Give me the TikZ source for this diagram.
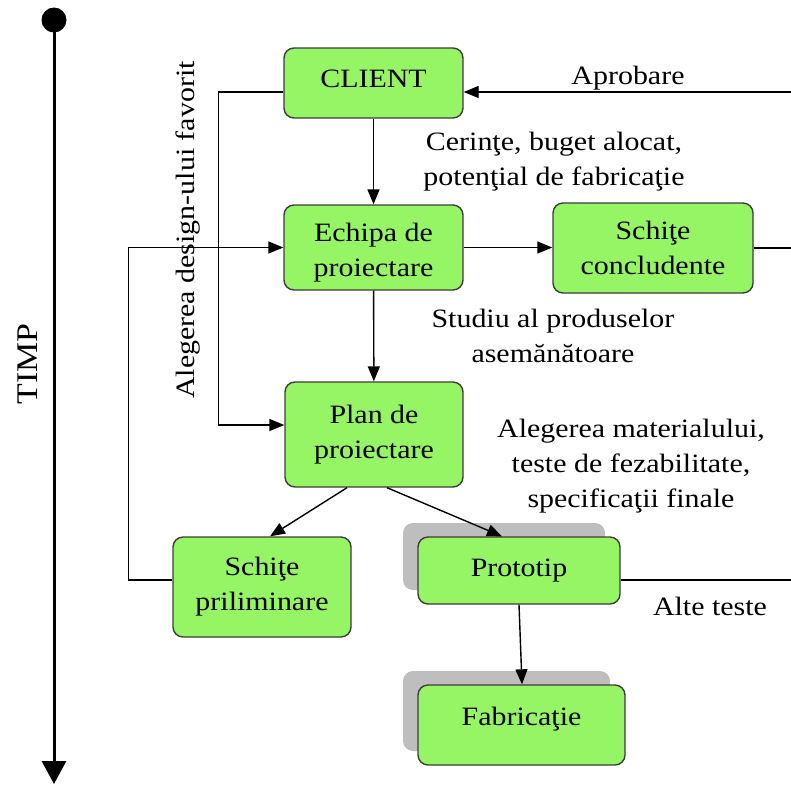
\documentclass[tikz,border=0pt]{standalone}
\usepackage{fontspec}
\setmainfont{Liberation Serif}[FakeStretch=1.13]
\usetikzlibrary{arrows.meta,shadows}
\definecolor{boxgreen}{RGB}{150,245,100}
\definecolor{boxline}{RGB}{60,60,60}
\definecolor{shadowgray}{RGB}{190,190,190}
\begin{document}
\begin{tikzpicture}[x=1pt,y=-1pt,
  txt/.style={font=\fontsize{26.5}{35}\selectfont},
  box/.style={txt, draw=boxline, line width=1.4pt, fill=boxgreen,
    rounded corners=10pt, align=center, inner sep=0pt},
  shadowed/.style={drop shadow={shadow xshift=-15pt, shadow yshift=14pt,
    fill=shadowgray, opacity=1}},
  link/.style={line width=1.4pt, -{Triangle[length=15pt,width=12pt]}},
  plain/.style={line width=1.4pt},
  note/.style={txt, align=center, inner sep=0pt},
  timeline/.style={line width=3pt, -{Triangle[length=23pt,width=24pt]}}]

\useasboundingbox (0,0) rectangle (791,785);

% time axis
\node[circle, fill=black, minimum size=25pt, inner sep=0pt] (start) at (54,20) {};
\coordinate (finish) at (54,784);
\draw[timeline] (start.center) -- (finish);
\node[rotate=90, font=\fontsize{30}{36}\selectfont] (timp) at (28,364) {TIMP};

% process boxes
\node[box, minimum width=179pt, minimum height=70pt, text depth=8pt] (client) at (373.5,83) {CLIENT};
\node[box, minimum width=179pt, minimum height=85pt, text height=64pt] (echipa) at (373.5,247.5) {Echipa de\\proiectare};
\node[box, minimum width=200pt, minimum height=90pt] (concl) at (653,248) {Schiţe\\concludente};
\node[box, minimum width=178pt, minimum height=105pt] (plan) at (374,434.5) {Plan de\\proiectare};
\node[box, minimum width=178pt, minimum height=100pt] (pril) at (262,587) {Schiţe\\priliminare};
\node[box, shadowed, minimum width=202pt, minimum height=67pt] (proto) at (519,570.5) {Prototip};
\node[box, shadowed, minimum width=207pt, minimum height=80pt, text height=18pt, text depth=18pt] (fab) at (521.5,725) {Fabricaţie};

% free ends leaving on the right
\coordinate (outConcl) at (791,248);
\coordinate (inClient) at (791,92);
\coordinate (outProto) at (791,580);

% connectors
\draw[link] (client) -- (echipa);
\draw[link] (echipa) -- (plan);
\draw[link] (echipa.east) -- (echipa.east -| concl.west);
\draw[plain] (concl.east) -- (outConcl);
\draw[link] (inClient) -- ([yshift=-9pt]client.east);
\draw[link] ([yshift=-9pt]client.west) -- ++(-65,0) |- ([yshift=9.5pt]plan.west);
\draw[link] ([yshift=7pt]pril.west) -- ++(-44,0) |- (echipa.west);
\draw[link] ([xshift=-27pt]plan.south) -- ([xshift=8pt]pril.north);
\draw[link] ([xshift=13pt]plan.south) -- ([xshift=-17pt]proto.north);
\draw[link] (proto.south) -- ([xshift=0.5pt]fab.north);
\draw[plain] ([yshift=-9.5pt]proto.east) -- (outProto);

% labels
\node[note] (aprob) at (628,78) {Aprobare};
\node[note] (cerinte) at (554,162) {Cerinţe, buget alocat,\\potenţial de fabricaţie};
\node[note] (studiu) at (553,335.5) {Studiu al produselor\\asemănătoare};
\node[note] (material) at (631,466.5) {Alegerea materialului,\\teste de fezabilitate,\\specificaţii finale};
\node[note] (alte) at (710,606) {Alte teste};
\node[note, rotate=90] (favorit) at (188,230) {Alegerea design-ului favorit};
\end{tikzpicture}
\end{document}
